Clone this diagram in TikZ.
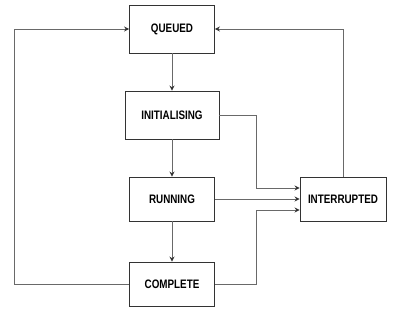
\documentclass[tikz,border=0pt]{standalone}
\usepackage{fontspec}
\setmainfont{Liberation Sans}
\newfontfamily\estadofont[FakeStretch=0.8]{Liberation Sans}
\usepackage{tikz}
\usetikzlibrary{positioning,arrows.meta,calc}
\definecolor{borde}{RGB}{51,51,51}
\definecolor{linea}{RGB}{105,105,105}

\begin{document}
\begin{tikzpicture}[x=1pt, y=-1pt,
  estado/.style={draw=borde, fill=white, line width=0.9pt,
    minimum width=#1, minimum height=44pt, inner sep=0pt,
    font=\estadofont\fontsize{12.3}{14}\selectfont\bfseries},
  estado/.default=85pt,
  flecha/.style={-{Stealth[length=5pt, width=5pt, color=borde]},
    line width=0.9pt, linea},
]
  \useasboundingbox (0,0) rectangle (394,311);
  % Estados
  \node[estado, minimum height=48pt] (q) at (172,29) {QUEUED};
  \node[estado=94pt, minimum height=48pt] (i) at (172,115) {INITIALISING};
  \node[estado] (r) at (172,199) {RUNNING};
  \node[estado] (c) at (172,284) {COMPLETE};
  \node[estado=86pt] (x) at (343,199) {INTERRUPTED};
  % Flechas verticales
  \foreach \a/\b in {q/i, i/r, r/c}
    \draw[flecha] (\a) -- (\b);
  % Vuelta a la cola
  \draw[flecha] (c.west) -- ++(-114.5,0) |- (q.west);
  \draw[flecha] (x.north) |- (q.east);
  % Hacia la interrupcion
  \draw[flecha] (i.east) -| ([xshift=-43pt, yshift=11pt]x.west)
    -- ([yshift=11pt]x.west);
  \draw[flecha] (r.east) -- (x.west);
  \draw[flecha] (c.east) -| ([xshift=-43pt, yshift=-11pt]x.west)
    -- ([yshift=-11pt]x.west);
\end{tikzpicture}
\end{document}
